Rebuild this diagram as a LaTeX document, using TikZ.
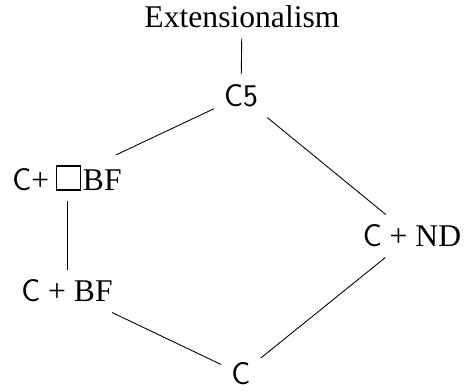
\documentclass[tikz,border=0pt]{standalone}
\usepackage{fontspec}
\setmainfont{Liberation Serif}
\usepackage{tikz}
\newcommand{\nbox}{\kern0.2em\tikz[baseline=0pt]\draw[line width=0.7pt] (0,0) rectangle (0.78em,0.76em);\kern0.05em}

\begin{document}
\begin{tikzpicture}[x=0.02cm, y=-0.02cm,
  logic/.style={inner sep=0.2cm, font=\fontsize{18}{22}\selectfont},
  edge/.style={line width=0.5pt}
]
\useasboundingbox (0,0) rectangle (464,392);

\node[logic] (ext) at (242,17) {Extensionalism};
\node[logic] (c5) at (241,96) {\textsf{C5}};
\node[logic] (cnec) at (67,178) {\textsf{C}+\nbox BF};
\node[logic] (cbf) at (67,291) {\textsf{C} + BF};
\node[logic] (cnd) at (412,236) {\textsf{C} + ND};
\node[logic] (c) at (241,374) {\textsf{C}};

\draw[edge] (ext) -- (c5);
\draw[edge] (c5) -- (cnec);
\draw[edge] (c5) -- (cnd);
\draw[edge] (cnec) -- (cbf);
\draw[edge] (cbf) -- (c);
\draw[edge] (c) -- (cnd);

\end{tikzpicture}
\end{document}
